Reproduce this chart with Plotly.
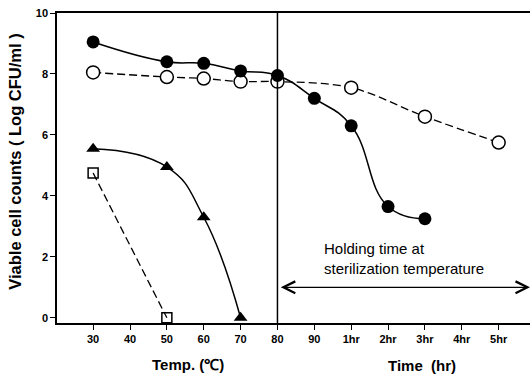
import plotly.graph_objects as go

tick_labels = ["30", "40", "50", "60", "70", "80", "90", "1hr", "2hr", "3hr", "4hr", "5hr"]

# filled circles (solid line)
fc_x = ["30", "50", "60", "70", "80", "90", "1hr", "2hr", "3hr"]
fc_y = [9.05, 8.4, 8.35, 8.1, 7.95, 7.2, 6.3, 3.65, 3.25]
# open circles (dashed line)
oc_x = ["30", "50", "60", "70", "80", "1hr", "3hr", "5hr"]
oc_y = [8.05, 7.9, 7.85, 7.75, 7.75, 7.55, 6.6, 5.75]
# filled triangles (solid line)
tr_x = ["30", "50", "60", "70"]
tr_y = [5.55, 4.95, 3.3, 0.0]
# open squares (dashed line)
sq_x = ["30", "50"]
sq_y = [4.75, 0.0]

idx = {t: i for i, t in enumerate(tick_labels)}
def pos(lbls):
    return [idx[l] for l in lbls]

XR = [-0.98, 11.85]
YR = [-0.17, 10]
divider = idx["80"]
arrow_y = 1.0

fig = go.Figure()
dash = "8px,4px"
fig.add_trace(go.Scatter(x=pos(sq_x), y=sq_y, mode="lines+markers",
    line=dict(color="black", width=1.3, dash=dash),
    marker=dict(symbol="square-open", size=10, color="black", line=dict(width=1.5))))
fig.add_trace(go.Scatter(x=pos(tr_x), y=tr_y, mode="lines+markers",
    line=dict(color="black", width=1.5, shape="spline", smoothing=1.3),
    marker=dict(symbol="triangle-up", size=12, color="black")))
fig.add_trace(go.Scatter(x=pos(oc_x), y=oc_y, mode="lines+markers",
    line=dict(color="black", width=1.3, dash=dash, shape="spline", smoothing=1.0),
    marker=dict(symbol="circle", size=13, color="white", line=dict(color="black", width=1.5))))
fig.add_trace(go.Scatter(x=pos(fc_x), y=fc_y, mode="lines+markers",
    line=dict(color="black", width=1.5, shape="spline", smoothing=1.3),
    marker=dict(symbol="circle", size=13, color="black")))

font = "Liberation Sans, Arial, sans-serif"
fig.update_layout(
    width=530, height=375,
    margin=dict(l=57, r=0, t=13, b=52),
    plot_bgcolor="white", paper_bgcolor="white",
    showlegend=False,
    font=dict(family=font, color="black"),
    xaxis=dict(range=XR, tickvals=list(range(len(tick_labels))), ticktext=tick_labels,
               showgrid=False, zeroline=False, showline=True, linecolor="black", linewidth=1.5,
               mirror=True, ticks="outside", ticklen=5, tickwidth=1.2, tickcolor="black",
               tickfont=dict(size=11, family=font, weight="bold")),
    yaxis=dict(range=YR, tickvals=[0, 2, 4, 6, 8, 10],
               showgrid=False, zeroline=False, showline=True, linecolor="black", linewidth=1.5,
               ticks="outside", ticklen=5, tickwidth=1.2, tickcolor="black",
               tickfont=dict(size=11, family=font, weight="bold")),
    shapes=[dict(type="line", xref="x", yref="paper", x0=divider, x1=divider, y0=0, y1=1,
                 line=dict(color="black", width=1.5))],
    annotations=[
        dict(text="<b>Viable cell counts ( Log CFU/ml )</b>", xref="paper", yref="paper",
             x=-0.089, y=0.52, textangle=-90, showarrow=False, font=dict(size=16.5),
             xanchor="center", yanchor="middle"),
        dict(text="<b>Temp. (℃)</b>", xref="paper", yref="paper", x=(188-57)/473, y=-(364-323)/310,
             showarrow=False, font=dict(size=15), xanchor="center", yanchor="middle"),
        dict(text="<b>Time  (hr)</b>", xref="paper", yref="paper", x=(422-57)/473, y=-(365-323)/310,
             showarrow=False, font=dict(size=15), xanchor="center", yanchor="middle"),
        dict(text="Holding time at<br>sterilization temperature", xref="x", yref="y",
             x=idx["90"] + 0.2, y=1.93, showarrow=False, align="left", xanchor="left",
             yanchor="middle", font=dict(size=15)),
        dict(x=XR[1], y=arrow_y, ax=divider + 0.05, ay=arrow_y, xref="x", yref="y",
             axref="x", ayref="y", text="", showarrow=True, arrowhead=5, startarrowhead=5,
             arrowside="end+start", arrowwidth=1.3, arrowsize=1.8, startarrowsize=1.8,
             arrowcolor="black"),
    ],
)

fig.write_html("out.html")
